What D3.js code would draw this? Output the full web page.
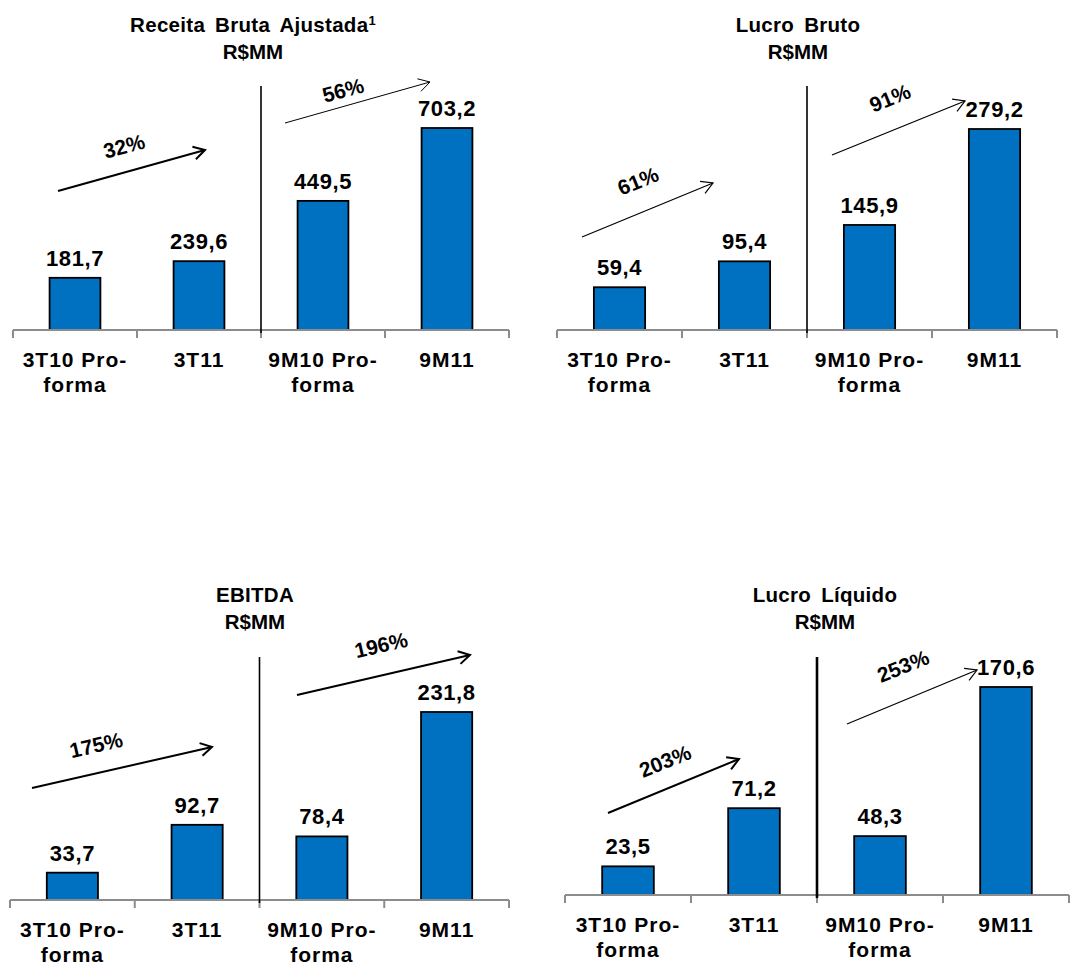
<!DOCTYPE html>
<html>
<head>
<meta charset="utf-8">
<script src="https://cdn.jsdelivr.net/npm/d3@7"></script>
<style>
  html, body { margin: 0; padding: 0; background: #fff; }
  svg { display: block; }
  text { font-family: "Liberation Sans", Arial, sans-serif; font-weight: bold; fill: #000; }
</style>
</head>
<body>
<svg id="chart" width="1076" height="966"></svg>
<script>
// Period labels (two lines where the label wraps)
const categories = ["3T10 Pro-forma", "3T11", "9M10 Pro-forma", "9M11"];
const categoryLines = [["3T10 Pro-", "forma"], ["3T11"], ["9M10 Pro-", "forma"], ["9M11"]];

// Chart titles
const titles = ["Receita Bruta Ajustada", "Lucro Bruto", "EBITDA", "Lucro Líquido"];
const titleSup = ["1", "", "", ""];
const unitLabel = "R$MM";

// Values, R$ million
const receitaBruta = [181.7, 239.6, 449.5, 703.2];
const lucroBruto = [59.4, 95.4, 145.9, 279.2];
const ebitda = [33.7, 92.7, 78.4, 231.8];
const lucroLiquido = [23.5, 71.2, 48.3, 170.6];

// Growth figures: quarter vs quarter, and nine months vs nine months
const growthQuarter = ["32%", "61%", "175%", "203%"];
const growthNineMonths = ["56%", "91%", "196%", "253%"];

const series = [receitaBruta, lucroBruto, ebitda, lucroLiquido];
const fmt = v => d3.format(".1f")(v).replace(".", ",");

// Panel geometry (absolute page pixels)
const panels = [
  { left: 13,  right: 509,  axisY: 330, topBar: 128, titleX: 253, titleY: 32,  divTop: 86,  divW: 1.6,
    arrows: [ { x1: 58,  y1: 191, x2: 205, y2: 150, w: 2,   tx: 124, ty: 146, rot: -15 },
              { x1: 285, y1: 123, x2: 430, y2: 82,  w: 1,   tx: 343, ty: 90,  rot: -15 } ] },
  { left: 557, right: 1057, axisY: 330, topBar: 129, titleX: 798, titleY: 32,  divTop: 86,  divW: 1.6,
    arrows: [ { x1: 582, y1: 237, x2: 713, y2: 183, w: 1.2, tx: 638, ty: 181, rot: -22 },
              { x1: 832, y1: 155, x2: 965, y2: 101, w: 1.2, tx: 890, ty: 98,  rot: -22 } ] },
  { left: 10,  right: 509,  axisY: 900, topBar: 712, titleX: 255, titleY: 602, divTop: 657, divW: 1.6,
    arrows: [ { x1: 32,  y1: 788, x2: 212, y2: 747, w: 2,   tx: 96,  ty: 745, rot: -13 },
              { x1: 297, y1: 695, x2: 470, y2: 655, w: 2,   tx: 381, ty: 645, rot: -13 } ] },
  { left: 565, right: 1069, axisY: 895, topBar: 687, titleX: 825, titleY: 602, divTop: 657, divW: 2.6,
    arrows: [ { x1: 608, y1: 813, x2: 739, y2: 759, w: 2,   tx: 665, ty: 761, rot: -22 },
              { x1: 847, y1: 724, x2: 977, y2: 670, w: 1.2, tx: 903, ty: 666, rot: -22 } ] }
];

const svg = d3.select("#chart");

panels.forEach((p, i) => {
  const values = series[i];
  const g = svg.append("g");

  const x = d3.scaleBand()
    .domain(categories)
    .range([p.left, p.right])
    .paddingInner(0.59)
    .paddingOuter(0.295);

  const y = d3.scaleLinear()
    .domain([0, d3.max(values)])
    .range([p.axisY, p.topBar]);

  // Title
  const t = g.append("text")
    .attr("x", p.titleX).attr("y", p.titleY)
    .attr("text-anchor", "middle")
    .style("font-size", "20.5px")
    .style("letter-spacing", "0.3px")
    .style("word-spacing", "4px")
    .text(titles[i]);
  if (titleSup[i]) {
    t.append("tspan").attr("dy", -7).style("font-size", "13px").text(titleSup[i]);
  }
  g.append("text")
    .attr("x", p.titleX).attr("y", p.titleY + 27)
    .attr("text-anchor", "middle")
    .style("font-size", "20.5px")
    .text(unitLabel);

  // Bars
  g.selectAll("rect.bar")
    .data(values)
    .join("rect")
    .attr("class", "bar")
    .attr("x", (d, j) => x(categories[j]))
    .attr("y", d => y(d))
    .attr("width", x.bandwidth())
    .attr("height", d => y(0) - y(d))
    .attr("fill", "#0070c0")
    .attr("stroke", "#000")
    .attr("stroke-width", 1.8);

  // Value labels
  g.selectAll("text.value")
    .data(values)
    .join("text")
    .attr("class", "value")
    .attr("x", (d, j) => x(categories[j]) + x.bandwidth() / 2)
    .attr("y", d => y(d) - 12)
    .attr("text-anchor", "middle")
    .style("font-size", "22px")
    .style("letter-spacing", "0.6px")
    .text(fmt);

  // Category axis with ticks at band edges
  const step = x.step();
  g.append("line")
    .attr("x1", p.left).attr("x2", p.right)
    .attr("y1", p.axisY).attr("y2", p.axisY)
    .attr("stroke", "#8c8c8c").attr("stroke-width", 2);
  g.selectAll("line.tick")
    .data(d3.range(categories.length + 1))
    .join("line")
    .attr("class", "tick")
    .attr("x1", k => p.left + k * step).attr("x2", k => p.left + k * step)
    .attr("y1", p.axisY).attr("y2", p.axisY + 8)
    .attr("stroke", "#8c8c8c").attr("stroke-width", 2);

  categories.forEach((c, j) => {
    const lbl = g.append("text")
      .attr("x", x(c) + x.bandwidth() / 2)
      .attr("y", p.axisY + 37)
      .attr("text-anchor", "middle")
      .style("font-size", "21px")
      .style("letter-spacing", "1px");
    categoryLines[j].forEach((line, k) => {
      lbl.append("tspan")
        .attr("x", x(c) + x.bandwidth() / 2)
        .attr("dy", k === 0 ? 0 : 25)
        .text(line);
    });
  });

  // Divider between quarter and nine-month groups
  const divX = p.left + 2 * step;
  g.append("line")
    .attr("x1", divX).attr("x2", divX)
    .attr("y1", p.divTop).attr("y2", p.axisY + 3)
    .attr("stroke", "#000").attr("stroke-width", p.divW);

  // Growth arrows with open heads
  const growth = [growthQuarter[i], growthNineMonths[i]];
  p.arrows.forEach((a, k) => {
    const ang = Math.atan2(a.y2 - a.y1, a.x2 - a.x1);
    const head = 13, spread = Math.PI / 6;
    g.append("line")
      .attr("x1", a.x1).attr("y1", a.y1).attr("x2", a.x2).attr("y2", a.y2)
      .attr("stroke", "#000").attr("stroke-width", a.w);
    const path = d3.path();
    path.moveTo(a.x2 - head * Math.cos(ang - spread), a.y2 - head * Math.sin(ang - spread));
    path.lineTo(a.x2, a.y2);
    path.lineTo(a.x2 - head * Math.cos(ang + spread), a.y2 - head * Math.sin(ang + spread));
    g.append("path")
      .attr("d", path.toString())
      .attr("fill", "none").attr("stroke", "#000").attr("stroke-width", a.w);
    g.append("text")
      .attr("transform", `translate(${a.tx},${a.ty}) rotate(${a.rot})`)
      .attr("text-anchor", "middle")
      .attr("dominant-baseline", "central")
      .style("font-size", "21px")
      .text(growth[k]);
  });
});
</script>
</body>
</html>
